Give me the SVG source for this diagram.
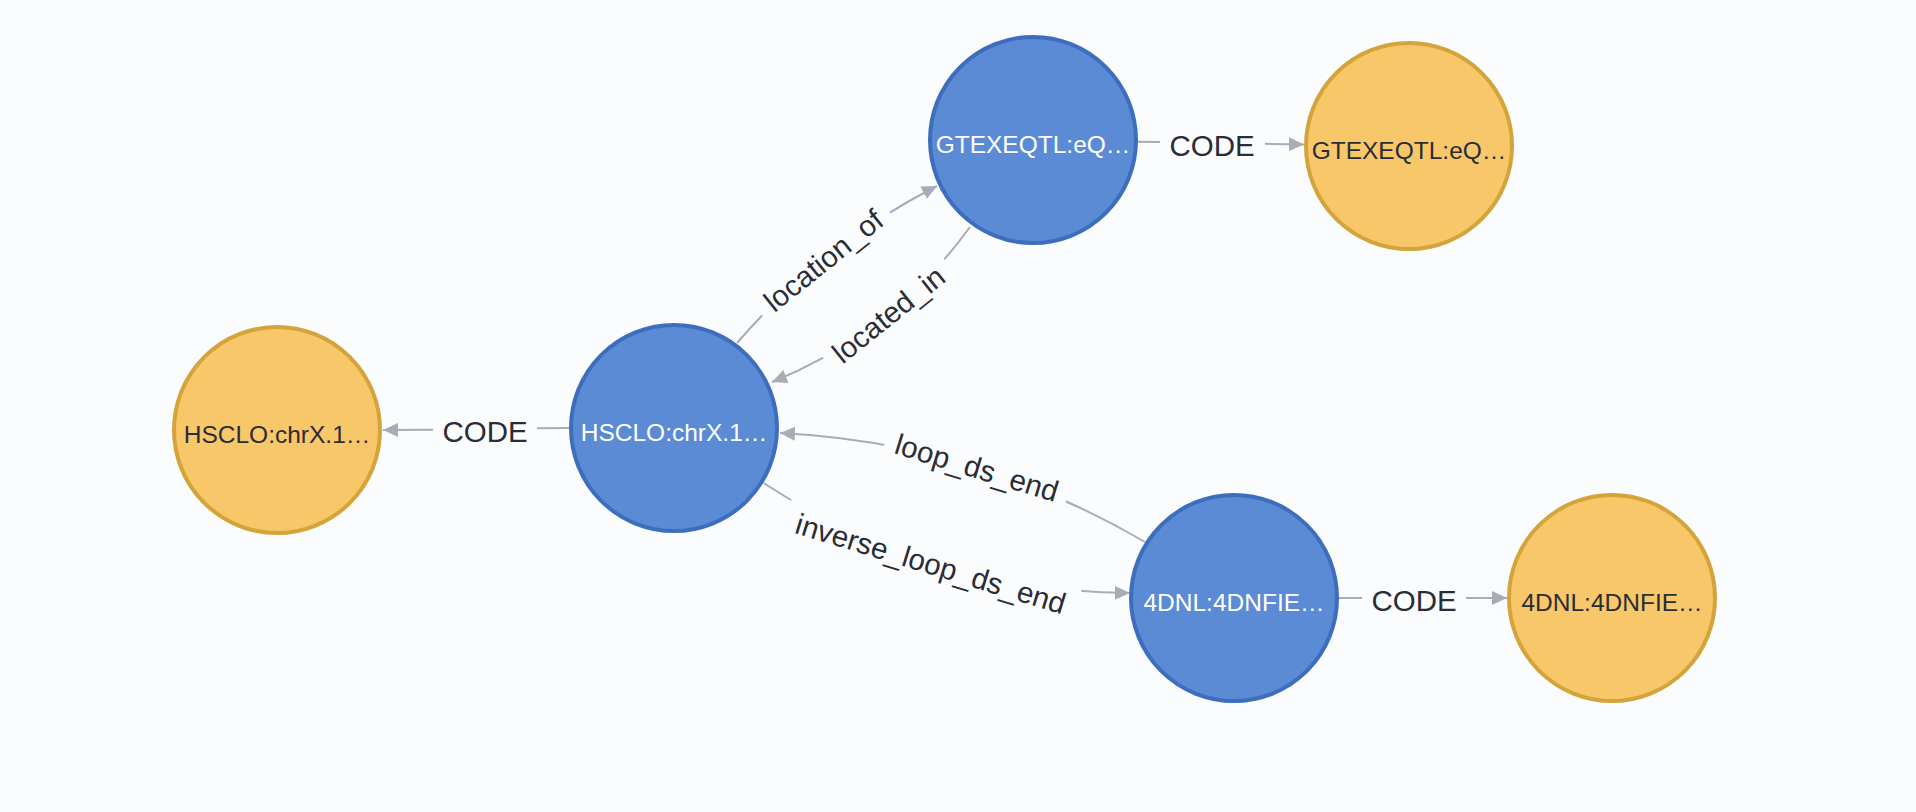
<svg xmlns="http://www.w3.org/2000/svg" width="1916" height="812" viewBox="0 0 1916 812">
<style>
.bg{fill:#fafcfe}
.blue circle{fill:#5b8bd4;stroke:#3d6dbd;stroke-width:4}
.yellow circle{fill:#f7c76a;stroke:#d4a43b;stroke-width:4}
.nl{font-family:"Liberation Sans",Arial,sans-serif;font-size:24.5px;text-anchor:middle}
.blue text{fill:#ffffff}
.yellow text{fill:#2b2d35}
.edge{fill:none;stroke:#a8acb5;stroke-width:2}
.el{font-family:"Liberation Sans",Arial,sans-serif;font-size:29.5px;fill:#2b2d35;text-anchor:middle}
</style>
<defs>
<marker id="ah" markerUnits="userSpaceOnUse" markerWidth="16" markerHeight="16" refX="15" refY="8" orient="auto">
<path d="M0,1 L15,8 L0,15 z" fill="#a8acb5"/>
</marker>
<mask id="m1" maskUnits="userSpaceOnUse" x="0" y="0" width="1916" height="812">
<rect x="0" y="0" width="1916" height="812" fill="#fff"/>
<rect x="-82" y="-25" width="164" height="50" fill="#000" transform="translate(823,260) rotate(-38.74)"/>
</mask>
<mask id="m2" maskUnits="userSpaceOnUse" x="0" y="0" width="1916" height="812">
<rect x="0" y="0" width="1916" height="812" fill="#fff"/>
<rect x="-78" y="-25" width="156" height="50" fill="#000" transform="translate(888,314) rotate(-38.74)"/>
</mask>
<mask id="m3" maskUnits="userSpaceOnUse" x="0" y="0" width="1916" height="812">
<rect x="0" y="0" width="1916" height="812" fill="#fff"/>
<rect x="-95" y="-25" width="190" height="50" fill="#000" transform="translate(977,467) rotate(16.9)"/>
</mask>
<mask id="m4" maskUnits="userSpaceOnUse" x="0" y="0" width="1916" height="812">
<rect x="0" y="0" width="1916" height="812" fill="#fff"/>
<rect x="-152" y="-25" width="304" height="50" fill="#000" transform="translate(931,563) rotate(16.9)"/>
</mask>
</defs>
<rect class="bg" x="0" y="0" width="1916" height="812"/>
<g id="connectors">
<g id="e-code-gtex">
<line class="edge" x1="1138" y1="141.7" x2="1160" y2="142.1"/>
<path class="edge" d="M1265,143.8 L1304,144.4" marker-end="url(#ah)"/>
<text class="el" x="1212" y="156">CODE</text>
</g>
<g id="e-code-hsclo">
<line class="edge" x1="569" y1="428" x2="537" y2="428.2"/>
<path class="edge" d="M433,429.8 L383,430" marker-end="url(#ah)"/>
<text class="el" x="485" y="442">CODE</text>
</g>
<g id="e-code-4dnl">
<line class="edge" x1="1339" y1="598" x2="1362" y2="598"/>
<path class="edge" d="M1466,598 L1507,598" marker-end="url(#ah)"/>
<text class="el" x="1414" y="611">CODE</text>
</g>
<g id="e-location-of">
<path class="edge" d="M737,343 Q822.4,244.3 937,186" mask="url(#m1)" marker-end="url(#ah)"/>
<text class="el" x="0" y="11" transform="translate(823,260) rotate(-38.74)">location_of</text>
</g>
<g id="e-located-in">
<path class="edge" d="M970,227 Q892.4,333.7 772,382" mask="url(#m2)" marker-end="url(#ah)"/>
<text class="el" x="0" y="11" transform="translate(888,314) rotate(-38.74)">located_in</text>
</g>
<g id="e-loop-ds-end">
<path class="edge" d="M1145,542 Q974.5,442.5 780,433" mask="url(#m3)" marker-end="url(#ah)"/>
<text class="el" x="0" y="11" transform="translate(977,467) rotate(16.9)">loop_ds_end</text>
</g>
<g id="e-inverse-loop-ds-end">
<path class="edge" d="M763.6,483 Q929.8,591.4 1130,593" mask="url(#m4)" marker-end="url(#ah)"/>
<text class="el" x="0" y="11" transform="translate(931,563) rotate(16.9)">inverse_loop_ds_end</text>
</g>
</g>
<g id="n-gtex-blue" class="blue">
<circle cx="1033" cy="140" r="103"/>
<text class="nl" x="1033" y="153">GTEXEQTL:eQ…</text>
</g>
<g id="n-gtex-yellow" class="yellow">
<circle cx="1409" cy="146" r="103"/>
<text class="nl" x="1409" y="159">GTEXEQTL:eQ…</text>
</g>
<g id="n-hsclo-yellow" class="yellow">
<circle cx="277" cy="430" r="103"/>
<text class="nl" x="277" y="443">HSCLO:chrX.1…</text>
</g>
<g id="n-hsclo-blue" class="blue">
<circle cx="674" cy="428" r="103"/>
<text class="nl" x="674" y="441">HSCLO:chrX.1…</text>
</g>
<g id="n-4dnl-blue" class="blue">
<circle cx="1234" cy="598" r="103"/>
<text class="nl" x="1234" y="611">4DNL:4DNFIE…</text>
</g>
<g id="n-4dnl-yellow" class="yellow">
<circle cx="1612" cy="598" r="103"/>
<text class="nl" x="1612" y="611">4DNL:4DNFIE…</text>
</g>
</svg>
